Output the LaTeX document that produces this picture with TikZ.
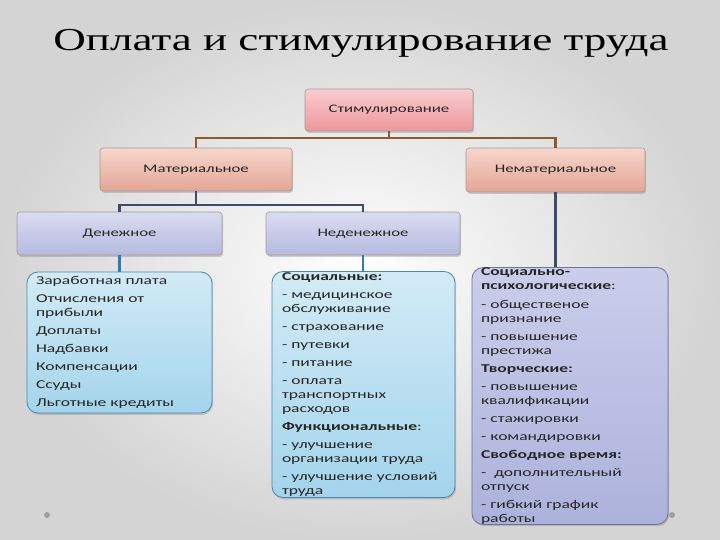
\documentclass[tikz,border=0pt]{standalone}
\usepackage{fontspec}
\usepackage{graphicx}
\usetikzlibrary{shadows}
\newfontfamily\titlefont{Liberation Serif}[FakeStretch=1.41]
\newfontfamily\boxfont{Carlito}[FakeStretch=1.46]
\definecolor{bgedge}{HTML}{D4D4D4}
\definecolor{pinkA}{HTML}{F9CDD0}
\definecolor{pinkB}{HTML}{EE979C}
\definecolor{salA}{HTML}{F6D6CC}
\definecolor{salB}{HTML}{E4A595}
\definecolor{lavA}{HTML}{DADCF0}
\definecolor{lavB}{HTML}{B6BADF}
\definecolor{bluA}{HTML}{D2EBF6}
\definecolor{bluB}{HTML}{A3D4EC}
\definecolor{bluLine}{HTML}{4F86AE}
\definecolor{lav3A}{HTML}{CACDEB}
\definecolor{lav3B}{HTML}{ADB2DC}
\definecolor{lavLine}{HTML}{6E7399}
\definecolor{hdrLine}{HTML}{A39A9A}
\definecolor{brownC}{HTML}{8C5A2B}
\definecolor{navyC}{HTML}{3E4B6E}
\definecolor{tealC}{HTML}{2D7DAF}
\tikzset{
  hdr/.style={draw=hdrLine, line width=0.6pt, rounded corners=3pt,
    drop shadow={opacity=0.35, shadow xshift=1.2pt, shadow yshift=-1.8pt},
    font=\boxfont\fontsize{11.5}{13}\selectfont, text=black!85},
  listbox/.style={rounded corners=11pt, line width=0.8pt,
    drop shadow={opacity=0.35, shadow xshift=1.2pt, shadow yshift=-1.8pt},
    font=\boxfont\fontsize{12}{14}\selectfont, text=black!85,
    align=left, inner sep=0pt},
  conn/.style={line width=2.2pt}
}
\begin{document}
\begin{tikzpicture}[x=1pt,y=-1pt]
\useasboundingbox (0,0) rectangle (720,540);
\shade[inner color=white, outer color=bgedge] (0,0) rectangle (720,540);
\node (title) at (361,43) {\titlefont\fontsize{32}{36}\selectfont Оплата и стимулирование труда};

% header boxes
\node[hdr, top color=pinkA, bottom color=pinkB, minimum width=168, minimum height=42] (stim) at (389,110) {Стимулирование};
\node[hdr, top color=salA, bottom color=salB, minimum width=192, minimum height=43] (mat) at (196,169.5) {Материальное};
\node[hdr, top color=salA, bottom color=salB, minimum width=179, minimum height=44] (nemat) at (555.5,170) {Нематериальное};
\node[hdr, top color=lavA, bottom color=lavB, minimum width=205, minimum height=43] (den) at (119.5,233.5) {Денежное};
\node[hdr, top color=lavA, bottom color=lavB, minimum width=194, minimum height=43] (neden) at (363,233.5) {Неденежное};

% list boxes
\node[listbox, draw=bluLine, top color=bluA, bottom color=bluB, minimum width=185, minimum height=141, text width=167] (l1) at (119.5,342.5) {Заработная плата\\[4pt]
Отчисления от\\ прибыли\\[4pt]
Доплаты\\[4pt]
Надбавки\\[4pt]
Компенсации\\[4pt]
Ссуды\\[4pt]
Льготные кредиты};

\node[listbox, draw=bluLine, top color=bluA, bottom color=bluB, minimum width=183, minimum height=226, text width=163] (l2) at (363.5,384.5) {\textbf{Социальные:}\\[4pt]
- медицинское\\ обслуживание\\[4pt]
- страхование\\[4pt]
- путевки\\[4pt]
- питание\\[4pt]
- оплата\\ транспортных\\ расходов\\[4pt]
\textbf{Функциональные}:\\[4pt]
- улучшение\\ организации труда\\[4pt]
- улучшение условий\\ труда};

\node[listbox, draw=lavLine, top color=lav3A, bottom color=lav3B, minimum width=196, minimum height=256, text width=178] (l3) at (570,396) {\textbf{Социально-}\\ \textbf{психологические}:\\[5pt]
- общественое\\ признание\\[4pt]
- повышение\\ престижа\\[4pt]
\textbf{Творческие:}\\[4pt]
- повышение\\ квалификации\\[4pt]
- стажировки\\[4pt]
- командировки\\[4pt]
\textbf{Свободное время:}\\[4pt]
-~ дополнительный\\ отпуск\\[4pt]
- гибкий график\\ работы};

% connectors
\draw[conn, brownC] (stim.south) -- ++(0,7) -| (mat.north);
\draw[conn, brownC] (stim.south) ++(0,7) -| (nemat.north);
\draw[conn, navyC] (mat.south) -- ++(0,14) -| (den.north);
\draw[conn, navyC] (mat.south) ++(0,14) -| (neden.north);
\draw[conn, navyC] (nemat.south) -- (nemat.south |- l3.north);
\draw[conn, tealC] (den.south) -- (den.south |- l1.north);
\draw[conn, tealC] (neden.south) -- (neden.south |- l2.north);

% decorative dots
\fill[gray!75] (47,515) circle (3);
\fill[gray!75] (672,515) circle (3);
\end{tikzpicture}
\end{document}
